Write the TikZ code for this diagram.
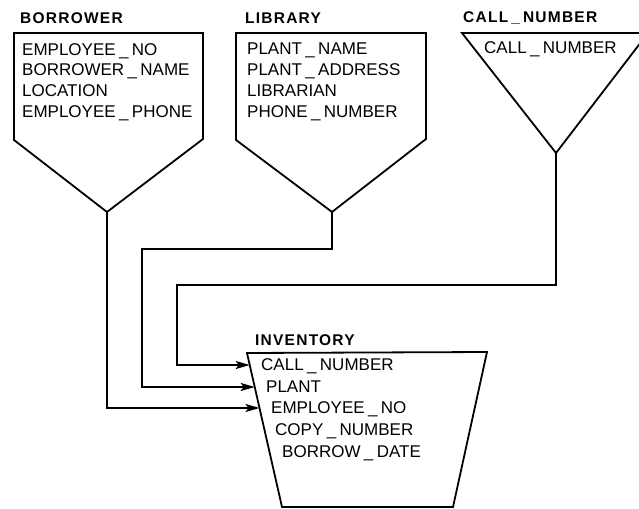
\documentclass[tikz,border=0pt]{standalone}
\usepackage{fontspec}
\setmainfont{Liberation Sans}
\newfontfamily\entfont[LetterSpace=8]{Liberation Sans}
\usetikzlibrary{arrows.meta}
\newcommand{\us}{\kern0.2em\_\kern0.2em}
\tikzstyle{entity} = [draw=black, line width=1.8pt, line join=miter]
\tikzstyle{enttitle} = [font=\entfont\bfseries\fontsize{15.5}{18}\selectfont, inner sep=0pt, anchor=base west]
\tikzstyle{attrs} = [font=\fontsize{17}{20.8}\selectfont, inner sep=0pt, anchor=north west, align=left]
\tikzstyle{attr} = [font=\fontsize{17}{20.8}\selectfont, inner sep=0pt, anchor=base west]
\tikzstyle{arrow} = [line width=1.8pt, -{Stealth[length=14pt,width=8pt,inset=3pt]}]

\begin{document}
\begin{tikzpicture}[x=1pt, y=-1pt]
\clip (0,0) rectangle (639,508);

% Entity outlines
\draw[entity] (14,33) -- (203,33) -- (203,139) -- (107,212) coordinate (borrower apex) -- (14,140) -- cycle;
\draw[entity] (236,33) -- (426,33) -- (426,139) -- (332,212) coordinate (library apex) -- (236,140) -- cycle;
\draw[entity] (462,33) -- (648,33) -- (556,153) coordinate (callno apex) -- cycle;
\draw[entity] (247,353) -- (487,352) -- (453,507) -- (282,507) -- cycle;

% Titles
\node (borrower) [enttitle] at (20,24) {BORROWER};
\node (library) [enttitle] at (245,24) {LIBRARY};
\node (callno) [enttitle] at (463,23) {CALL\us NUMBER};
\node (inventory) [enttitle] at (255,345) {INVENTORY};

% Attributes
\node (borrower attrs) [attrs] at (22,43) {EMPLOYEE\us NO\\BORROWER\us NAME\\LOCATION\\EMPLOYEE\us PHONE};
\node (library attrs) [attrs] at (247,43) {PLANT\us NAME\\PLANT\us ADDRESS\\LIBRARIAN\\PHONE\us NUMBER};
\node (callno attr) [attr] at (484,54) {CALL\us NUMBER};
\node (inv call) [attr] at (261,370) {CALL\us NUMBER};
\node (inv plant) [attr] at (266,392) {PLANT};
\node (inv emp) [attr] at (271,413) {EMPLOYEE\us NO};
\node (inv copy) [attr] at (275,435) {COPY\us NUMBER};
\node (inv date) [attr] at (282,457) {BORROW\us DATE};

% Links into INVENTORY
\coordinate (call in) at (249.7,365);
\coordinate (plant in) at (254.7,387);
\coordinate (emp in) at (259.5,408);
\coordinate (callno bend) at (177,285);
\coordinate (library bend) at (142,249);
\draw[arrow] (callno apex) |- (callno bend) |- (call in);
\draw[arrow] (library apex) |- (library bend) |- (plant in);
\draw[arrow] (borrower apex) |- (emp in);
\end{tikzpicture}
\end{document}
